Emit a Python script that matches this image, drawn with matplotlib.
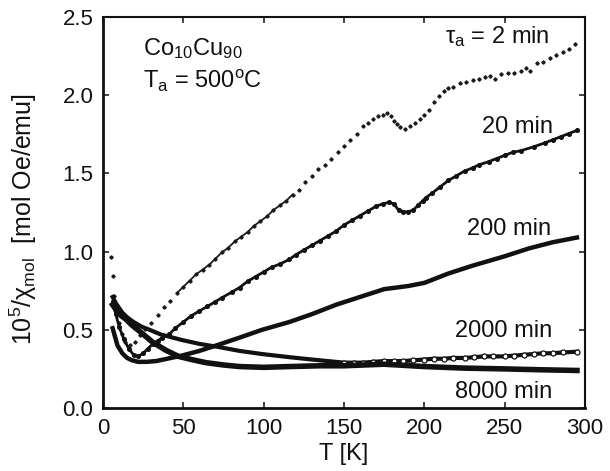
import matplotlib
matplotlib.use('Agg')
import matplotlib.pyplot as plt

plt.rcParams['font.family'] = ['Liberation Sans', 'DejaVu Sans']
plt.rcParams['mathtext.fontset'] = 'custom'
plt.rcParams['mathtext.rm'] = 'Liberation Sans'
plt.rcParams['mathtext.it'] = 'Liberation Sans'
plt.rcParams['mathtext.default'] = 'regular'

# values
t_2 = [5, 6, 7, 8, 10, 12, 14, 17, 20, 23, 26, 30, 34, 38, 42, 46, 50, 54, 58, 62, 66, 70, 74, 78, 82, 86, 90,
       94, 98, 102, 106, 110, 114, 118, 122, 126, 130, 134, 138, 142, 146, 150, 154, 158, 162, 165, 168, 171,
       174, 177, 179, 181, 183, 185, 188, 191, 194, 197, 200, 203, 206, 209, 212, 215, 218, 222, 226, 230,
       234, 238, 241, 244, 248, 252, 256, 260, 263, 266, 270, 274, 278, 282, 286, 290, 294]
v_2 = [.965, .845, .715, .635, .545, .475, .425, .40, .425, .465, .505, .545, .595, .645, .685, .735, .775, .815,
       .855, .885, .915, .955, .995, 1.025, 1.065, 1.095, 1.125, 1.165, 1.195, 1.225, 1.265, 1.295, 1.325,
       1.365, 1.395, 1.445, 1.485, 1.525, 1.555, 1.595, 1.635, 1.675, 1.715, 1.755, 1.805, 1.825, 1.845,
       1.865, 1.875, 1.885, 1.865, 1.835, 1.815, 1.795, 1.785, 1.805, 1.825, 1.845, 1.875, 1.905, 1.955,
       1.995, 2.025, 2.045, 2.055, 2.075, 2.085, 2.095, 2.105, 2.115, 2.125, 2.105, 2.135, 2.145, 2.145,
       2.155, 2.175, 2.155, 2.205, 2.215, 2.235, 2.255, 2.275, 2.295, 2.325]

t_20 = [6, 8, 10, 13, 16, 19, 22, 25, 28, 31, 34, 37, 41, 45, 50, 55, 60, 65, 70, 74, 80, 85, 90, 95, 100, 105,
        110, 116, 120, 125, 130, 135, 140, 145, 150, 155, 160, 165, 170, 174, 178, 181, 184, 187, 190, 193,
        196, 199, 201, 205, 210, 215, 220, 225, 230, 234, 240, 245, 250, 255, 260, 268, 275, 280, 285, 290, 295]
v_20 = [.68, .60, .52, .44, .38, .34, .33, .35, .38, .41, .43, .45, .47, .51, .55, .59, .62, .65, .68, .705, .74,
        .77, .81, .84, .87, .90, .92, .95, .98, 1.01, 1.04, 1.07, 1.10, 1.13, 1.17, 1.20, 1.23, 1.26, 1.29,
        1.305, 1.315, 1.305, 1.265, 1.255, 1.255, 1.265, 1.295, 1.325, 1.345, 1.375, 1.415, 1.455, 1.485,
        1.515, 1.535, 1.555, 1.575, 1.595, 1.615, 1.635, 1.645, 1.67, 1.695, 1.715, 1.735, 1.755, 1.775]

t_200 = [6, 9, 12, 15, 18, 22, 27, 33, 40, 49, 60, 72, 85, 99, 116, 130, 145, 160, 175, 190, 200, 215, 230, 250,
         265, 280, 295]
v_200 = [.51, .40, .35, .32, .305, .295, .295, .30, .315, .335, .365, .405, .45, .50, .55, .60, .66, .71, .76,
         .78, .80, .86, .91, .97, 1.02, 1.06, 1.09]

t_2000 = [6, 8, 10, 12, 15, 19, 24, 29, 36, 49, 60, 72, 85, 99, 116, 130, 140, 150, 156, 162, 168, 175, 181, 187,
          193, 200, 206, 212, 218, 225, 231, 237, 243, 250, 256, 262, 268, 274, 280, 286, 295]
v_2000 = [.71, .67, .64, .61, .58, .55, .52, .50, .47, .435, .41, .39, .365, .345, .325, .31, .30, .29, .29,
          .29, .295, .30, .30, .30, .305, .31, .315, .315, .32, .32, .325, .33, .33, .33, .335, .34, .345, .35,
          .35, .355, .36]

t_8000 = [6, 8, 10, 14, 18, 24, 31, 39, 47, 55, 64, 75, 85, 100, 116, 135, 150, 175, 200, 225, 250, 270, 295]
v_8000 = [.66, .63, .60, .57, .53, .48, .42, .37, .33, .31, .29, .275, .265, .26, .265, .27, .27, .28, .265, .255,
          .25, .245, .24]

x_ticks = [0, 50, 100, 150, 200, 250, 300]
y_ticks = [0.0, 0.5, 1.0, 1.5, 2.0, 2.5]

fig = plt.figure(figsize=(6.10, 4.71), dpi=100)
ax = fig.add_axes([103 / 610, 1 - 408 / 471, 482 / 610, 391 / 471])

ax.plot(t_2, v_2, ls='none', marker='D', ms=1.7, color='#1a1a1a')
# the low-T part of the 2 min curve merges into a line
ax.plot(t_2[15:34], v_2[15:34], '-', lw=1.3, color='#1a1a1a')
ax.plot(t_20, v_20, '-', lw=2.0, marker='o', ms=2.6, color='#111111')
ax.plot(t_200, v_200, '-', lw=3.2, color='#111111')
ax.plot(t_2000, v_2000, '-', lw=3.0, color='#111111')
ax.plot(t_2000[17:], v_2000[17:], ls='none', marker='o', ms=3.6, mfc='white', mec='#111111', mew=0.9)
ax.plot(t_8000, v_8000, '-', lw=4.0, color='#111111')

ax.set_xlim(0, 300)
ax.set_ylim(0, 2.5)
ax.set_xticks(x_ticks)
ax.set_yticks(y_ticks)
ax.set_yticklabels(['%.1f' % y for y in y_ticks])
ax.tick_params(direction='in', length=4, width=1.1, top=True, right=True, labelsize=16, colors='#111111')
ax.tick_params(axis='x', pad=7)
ax.tick_params(axis='y', pad=7)
for name in ax.spines:
    ax.spines[name].set_linewidth(1.5)
    ax.spines[name].set_color('#111111')
ax.spines['left'].set_linewidth(2)
ax.spines['bottom'].set_linewidth(2)

ax.set_xlabel('T [K]', fontsize=17, color='#111111')
ax.xaxis.set_label_coords(0.5, -0.09, transform=ax.transAxes)
ax.set_ylabel(r'$10^5/\chi_{mol}$  [mol Oe/emu]', fontsize=18, color='#111111')
ax.yaxis.set_label_coords(-0.132, 0.482)

ax.text(25, 2.257, r'$Co_{10}Cu_{90}$', fontsize=17, color='#111111')
ax.text(25, 2.046, r'$T_a$ = 500$^o$C', fontsize=17, color='#111111')
ax.text(213, 2.334, r'$\tau_a$ = 2 min', fontsize=17, color='#111111')
ax.text(236, 1.758, '20 min', fontsize=17, color='#111111')
ax.text(226.5, 1.106, '200 min', fontsize=17, color='#111111')
ax.text(219, 0.454, '2000 min', fontsize=17, color='#111111')
ax.text(219, 0.064, '8000 min', fontsize=17, color='#111111')

fig.savefig('out.png', dpi=100)
